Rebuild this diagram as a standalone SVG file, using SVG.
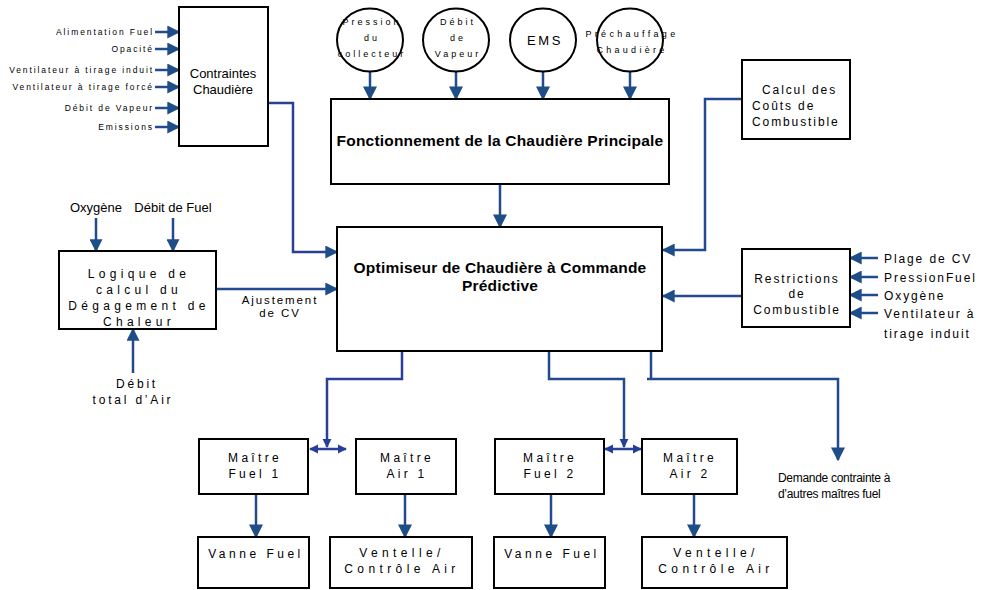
<svg xmlns="http://www.w3.org/2000/svg" width="992" height="590" viewBox="0 0 992 590">
  <style>
    .box { fill: #ffffff; stroke: #000000; stroke-width: 2; }
    .wire { fill: none; stroke: #234a8e; stroke-width: 2.5; }
    .t { font-family: "Liberation Sans", Arial, sans-serif; fill: #000000; }
    .bold { font-weight: bold; font-size: 15.5px; letter-spacing: 0.2px; }
    .in8 { font-size: 8.5px; letter-spacing: 1.9px; }
    .circ { font-size: 9px; letter-spacing: 3px; }
    .sp2 { font-size: 12px; letter-spacing: 1.9px; }
    .sp4 { font-size: 12px; letter-spacing: 4.3px; }
    .sp3 { font-size: 12px; letter-spacing: 3.3px; }
    .plain { font-size: 13px; }
  </style>
  <defs>
    <marker id="ah" viewBox="0 0 10 10" refX="9" refY="5" markerWidth="14" markerHeight="13" markerUnits="userSpaceOnUse" orient="auto-start-reverse">
      <path d="M0,0 L10,5 L0,10 z" fill="#1f4d88"/>
    </marker>
    <marker id="ahBig" viewBox="0 0 10 10" refX="9" refY="5" markerWidth="14" markerHeight="16" markerUnits="userSpaceOnUse" orient="auto-start-reverse">
      <path d="M0,0 L10,5 L0,10 z" fill="#1f4d88"/>
    </marker>
    <marker id="ahSm" viewBox="0 0 10 10" refX="9" refY="5" markerWidth="9" markerHeight="10" markerUnits="userSpaceOnUse" orient="auto-start-reverse">
      <path d="M0,0 L10,5 L0,10 z" fill="#243f96"/>
    </marker>
  </defs>

  <!-- connectors -->
  <g id="connectors">
    <!-- inputs to boiler constraints -->
    <path class="wire" d="M155,32 H179" marker-end="url(#ah)"/>
    <path class="wire" d="M155,49 H179" marker-end="url(#ah)"/>
    <path class="wire" d="M155,70 H179" marker-end="url(#ah)"/>
    <path class="wire" d="M155,87 H179" marker-end="url(#ah)"/>
    <path class="wire" d="M155,108 H179" marker-end="url(#ah)"/>
    <path class="wire" d="M155,127 H179" marker-end="url(#ah)"/>
    <!-- circles to main boiler operation -->
    <path class="wire" d="M370,72 V99" marker-end="url(#ahBig)"/>
    <path class="wire" d="M456,72 V99" marker-end="url(#ahBig)"/>
    <path class="wire" d="M543,72 V99" marker-end="url(#ahBig)"/>
    <path class="wire" d="M630,72 V99" marker-end="url(#ahBig)"/>
    <!-- main operation to optimiser -->
    <path class="wire" d="M500,184 V227" marker-end="url(#ahBig)"/>
    <!-- constraints to optimiser -->
    <path class="wire" style="stroke:#2b3f98" d="M268,103 H293 V252 H337" marker-end="url(#ah)"/>
    <!-- heat release logic -->
    <path class="wire" d="M96,218 V251" marker-end="url(#ah)"/>
    <path class="wire" d="M173,218 V251" marker-end="url(#ah)"/>
    <path class="wire" d="M133,373 V329" marker-end="url(#ah)"/>
    <path class="wire" d="M216,289 H337" marker-end="url(#ah)"/>
    <!-- fuel cost and restrictions to optimiser -->
    <path class="wire" d="M742,99 H705 V250 H663" marker-end="url(#ah)"/>
    <path class="wire" d="M742,296 H663" marker-end="url(#ah)"/>
    <!-- inputs to fuel restrictions -->
    <path class="wire" d="M878,258 H850" marker-end="url(#ah)"/>
    <path class="wire" d="M878,277 H850" marker-end="url(#ah)"/>
    <path class="wire" d="M878,295 H850" marker-end="url(#ah)"/>
    <path class="wire" d="M878,313 H850" marker-end="url(#ah)"/>
    <!-- optimiser outputs -->
    <path class="wire" style="stroke:#2b3f98" d="M402,351 V379 H327 V447" marker-end="url(#ahSm)"/>
    <path class="wire" style="stroke:#2b3f98" d="M310,449 H346" marker-start="url(#ahSm)" marker-end="url(#ahSm)"/>
    <path class="wire" d="M549,351 V379 H624 V447" marker-end="url(#ahSm)"/>
    <path class="wire" style="stroke:#2b3f98" d="M605,449 H641" marker-start="url(#ahSm)" marker-end="url(#ahSm)"/>
    <path class="wire" d="M651,351 V379" />
    <path class="wire" d="M647,379 H838 V460" marker-end="url(#ahBig)"/>
    <!-- masters to actuators -->
    <path class="wire" d="M256,494 V537" marker-end="url(#ahBig)"/>
    <path class="wire" d="M405,494 V537" marker-end="url(#ahBig)"/>
    <path class="wire" d="M551,494 V537" marker-end="url(#ahBig)"/>
    <path class="wire" d="M694,494 V537" marker-end="url(#ahBig)"/>
  </g>

  <!-- input labels for boiler constraints -->
  <g id="constraint-inputs" class="t in8" text-anchor="end">
    <text x="154" y="35">Alimentation Fuel</text>
    <text x="154" y="52">Opacité</text>
    <text x="154" y="73">Ventilateur à tirage induit</text>
    <text x="154" y="90">Ventilateur à tirage forcé</text>
    <text x="154" y="111">Débit de Vapeur</text>
    <text x="154" y="130">Emissions</text>
  </g>

  <g id="contraintes">
    <rect class="box" x="179" y="7" width="89" height="139"/>
    <text class="t plain" x="223" y="78" text-anchor="middle">Contraintes</text>
    <text class="t plain" x="223" y="94" text-anchor="middle">Chaudière</text>
  </g>

  <g id="pression">
    <ellipse class="box" cx="370" cy="40" rx="33" ry="31.5"/>
    <g class="t circ" text-anchor="middle">
      <text x="372" y="25">Pression</text>
      <text x="372" y="41">du</text>
      <text x="372" y="57">collecteur</text>
    </g>
  </g>

  <g id="debit-vapeur">
    <ellipse class="box" cx="456" cy="40" rx="33" ry="31.5"/>
    <g class="t circ" text-anchor="middle">
      <text x="458" y="25">Débit</text>
      <text x="458" y="41">de</text>
      <text x="458" y="57">Vapeur</text>
    </g>
  </g>

  <g id="ems">
    <ellipse class="box" cx="543" cy="40" rx="33" ry="31.5"/>
    <text class="t" x="545" y="45" text-anchor="middle" style="font-size:13px;letter-spacing:2.6px">EMS</text>
  </g>

  <g id="prechauffage">
    <ellipse class="box" cx="630" cy="40" rx="33" ry="31.5"/>
    <g class="t circ" text-anchor="middle" style="letter-spacing:3.3px">
      <text x="632" y="37">Préchauffage</text>
      <text x="632" y="53">Chaudière</text>
    </g>
  </g>

  <g id="fonctionnement">
    <rect class="box" x="331" y="99" width="338" height="85"/>
    <text class="t bold" x="500" y="146" text-anchor="middle">Fonctionnement de la Chaudière Principale</text>
  </g>

  <g id="calcul-couts">
    <rect class="box" x="742" y="60" width="108" height="79"/>
    <g class="t sp2">
      <text x="762" y="94">Calcul des</text>
      <text x="752" y="110">Coûts de</text>
      <text x="752" y="126">Combustible</text>
    </g>
  </g>

  <g id="optimiseur">
    <rect class="box" x="337" y="227" width="325" height="124"/>
    <text class="t bold" x="500" y="273" text-anchor="middle">Optimiseur de Chaudière à Commande</text>
    <text class="t bold" x="500" y="291" text-anchor="middle">Prédictive</text>
  </g>

  <g id="logique">
    <text class="t plain" x="96" y="212" text-anchor="middle">Oxygène</text>
    <text class="t plain" x="173" y="212" text-anchor="middle">Débit de Fuel</text>
    <rect class="box" x="59" y="251" width="157" height="78"/>
    <g class="t sp4" text-anchor="middle">
      <text x="139" y="278">Logique de</text>
      <text x="139" y="294">calcul du</text>
      <text x="139" y="310">Dégagement de</text>
      <text x="139" y="326">Chaleur</text>
    </g>
    <g class="t" text-anchor="middle" style="font-size:12px;letter-spacing:2.8px">
      <text x="137" y="388">Débit</text>
      <text x="133" y="404">total d’Air</text>
    </g>
    <g class="t" text-anchor="middle" style="font-size:11.5px;letter-spacing:1.9px">
      <text x="280" y="304">Ajustement</text>
      <text x="280" y="317">de CV</text>
    </g>
  </g>

  <g id="restrictions">
    <rect class="box" x="742" y="249" width="108" height="78"/>
    <g class="t sp2" text-anchor="middle">
      <text x="797" y="283">Restrictions</text>
      <text x="797" y="298">de</text>
      <text x="797" y="314">Combustible</text>
    </g>
    <g class="t sp2">
      <text x="884" y="263">Plage de CV</text>
      <text x="884" y="282">PressionFuel</text>
      <text x="884" y="300">Oxygène</text>
      <text x="884" y="318">Ventilateur à</text>
      <text x="884" y="338">tirage induit</text>
    </g>
  </g>

  <g id="maitre-fuel-1">
    <rect class="box" x="199" y="439" width="109" height="55"/>
    <g class="t sp3" text-anchor="middle">
      <text x="255" y="462">Maître</text>
      <text x="255" y="478">Fuel 1</text>
    </g>
  </g>

  <g id="maitre-air-1">
    <rect class="box" x="356" y="439" width="100" height="55"/>
    <g class="t sp3" text-anchor="middle">
      <text x="407" y="462">Maître</text>
      <text x="407" y="478">Air 1</text>
    </g>
  </g>

  <g id="maitre-fuel-2">
    <rect class="box" x="495" y="439" width="109" height="55"/>
    <g class="t sp3" text-anchor="middle">
      <text x="550" y="462">Maître</text>
      <text x="550" y="478">Fuel 2</text>
    </g>
  </g>

  <g id="maitre-air-2">
    <rect class="box" x="642" y="439" width="95" height="55"/>
    <g class="t sp3" text-anchor="middle">
      <text x="690" y="462">Maître</text>
      <text x="690" y="478">Air 2</text>
    </g>
  </g>

  <g id="vanne-fuel-1">
    <rect class="box" x="198" y="537" width="111" height="51"/>
    <text class="t" x="256" y="558" text-anchor="middle" style="font-size:12px;letter-spacing:3.5px">Vanne Fuel</text>
  </g>

  <g id="ventelle-1">
    <rect class="box" x="330" y="537" width="142" height="51"/>
    <g class="t" text-anchor="middle" style="font-size:12px;letter-spacing:4.4px">
      <text x="402" y="557">Ventelle/</text>
      <text x="402" y="573">Contrôle Air</text>
    </g>
  </g>

  <g id="vanne-fuel-2">
    <rect class="box" x="494" y="537" width="111" height="51"/>
    <text class="t" x="552" y="558" text-anchor="middle" style="font-size:12px;letter-spacing:3.5px">Vanne Fuel</text>
  </g>

  <g id="ventelle-2">
    <rect class="box" x="642" y="537" width="145" height="51"/>
    <g class="t" text-anchor="middle" style="font-size:12px;letter-spacing:4.4px">
      <text x="716" y="557">Ventelle/</text>
      <text x="716" y="573">Contrôle Air</text>
    </g>
  </g>

  <g id="demande">
    <g class="t" style="font-size:12px;letter-spacing:-0.3px">
      <text x="778" y="482">Demande contrainte à</text>
      <text x="778" y="498">d’autres maîtres fuel</text>
    </g>
  </g>
</svg>
